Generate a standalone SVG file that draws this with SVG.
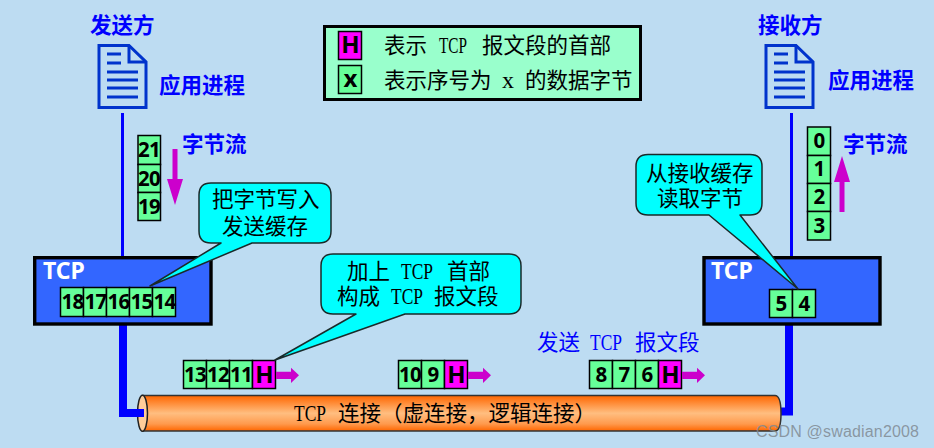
<svg xmlns="http://www.w3.org/2000/svg" width="934" height="448" viewBox="0 0 934 448">
<style>
.cell{fill:#66FF99;stroke:#000;stroke-width:1.5}
.hcell{fill:#FF00FF;stroke:#000;stroke-width:1.5}
.num{font-family:"Noto Sans","Open Sans",sans-serif;font-weight:700;font-size:20.5px;letter-spacing:-.7px;fill:#000;text-anchor:middle}
.hd{font-family:"Liberation Sans","Noto Sans CJK SC",sans-serif;font-weight:700;font-size:21.5px;fill:#0000FF}
.tcp{font-family:"Noto Sans",sans-serif;font-weight:700;font-size:23px;fill:#fff}
.box{fill:#3366FF;stroke:#000;stroke-width:3.4}
.call{fill:#00FFFF;stroke:#1a2a2a;stroke-width:1.5;stroke-linejoin:round}
.t{font-family:"Liberation Serif","Noto Sans CJK SC",serif;font-size:21.5px;fill:#000}
.lat{font-size:24px}
.blue{fill:#0000FF}
.mag{fill:#CC00CC}
.doc{fill:none;stroke:#0033CC;stroke-width:3}
.thin{fill:none;stroke:#0000FF;stroke-width:3}
.thick{fill:none;stroke:#0000FF;stroke-width:8;stroke-linejoin:miter}
</style>
<defs>
<linearGradient id="pipe" x1="0" y1="0" x2="0" y2="1">
<stop offset="0" stop-color="#FF6600"/><stop offset="0.5" stop-color="#FFBE80"/><stop offset="0.8" stop-color="#FF9A4D"/><stop offset="1" stop-color="#FF6600"/>
</linearGradient>
<g id="docicon">
<path class="doc" d="M0,0H30L47,16.500V62H0Z"/>
<path class="doc" d="M30,0V16.500H47"/>
<path class="doc" d="M8,8.500H22M8,17.500H22M8,26.500H39M8,34.500H39M8,42.500H39M8,51.500H39"/>
</g>
<path id="arrowr" class="mag" d="M0,11.700H15V7.700L23,15.300L15,23V19H0Z"/>
</defs>
<rect width="934" height="448" fill="#BDDCF2"/>

<g id="connectors">
<path class="thin" d="M122.500,113V256"/>
<path class="thin" d="M791.500,113V256"/>
<path class="thick" d="M123,325V413H144"/>
<path class="thick" d="M789,325V411.500H781"/>
</g>

<g id="sender">
<text class="hd" x="90" y="32.500">发送方</text>
<use href="#docicon" x="99" y="45.500"/>
<text class="hd" x="159" y="92.500">应用进程</text>
</g>
<g id="receiver">
<text class="hd" x="758" y="32.500">接收方</text>
<use href="#docicon" x="766" y="45.500"/>
<text class="hd" x="828" y="87.500">应用进程</text>
</g>

<g id="legend">
<rect x="324.500" y="26.500" width="316" height="73" fill="#99FFCC" stroke="#000" stroke-width="3"/>
<rect class="hcell" x="338.500" y="31.500" width="23" height="28"/>
<text class="num" x="350" y="53" style="font-size:24px">H</text>
<rect class="cell" x="338.500" y="65.500" width="23" height="28"/>
<text class="num" x="350" y="87" style="font-size:24px">x</text>
<text class="t" y="52.500"><tspan x="384">表示</tspan> <tspan class="lat" x="439" textLength="28" lengthAdjust="spacingAndGlyphs">TCP</tspan> <tspan x="482">报文段的首部</tspan></text>
<text class="t" y="87.500"><tspan x="384">表示序号为</tspan> <tspan class="lat" x="502">x</tspan> <tspan x="525">的数据字节</tspan></text>
</g>

<g id="stream-left">
<rect class="cell" x="138" y="135.500" width="22.500" height="29"/><text class="num" x="149" y="157">21</text>
<rect class="cell" x="138" y="164.500" width="22.500" height="28"/><text class="num" x="149" y="186">20</text>
<rect class="cell" x="138" y="192.500" width="22.500" height="28"/><text class="num" x="149" y="214">19</text>
<path class="mag" d="M172.500,149H177.500V179H183L175,205L167,179H172.500Z"/>
<text class="hd" x="182" y="152">字节流</text>
</g>

<g id="stream-right">
<rect class="cell" x="807.500" y="127" width="23" height="28.500"/><text class="num" x="819" y="148">0</text>
<rect class="cell" x="807.500" y="155.500" width="23" height="28"/><text class="num" x="819" y="176">1</text>
<rect class="cell" x="807.500" y="183.500" width="23" height="28"/><text class="num" x="819" y="204">2</text>
<rect class="cell" x="807.500" y="211.500" width="23" height="28.500"/><text class="num" x="819" y="233">3</text>
<path class="mag" d="M839.500,212V182H834L842,156L850,182H844.500V212Z"/>
<text class="hd" x="843" y="152">字节流</text>
</g>

<g id="tcp-left">
<rect class="box" x="34.700" y="257.700" width="176.300" height="66.300"/>
<text class="tcp" x="43" y="278.500">TCP</text>
<rect class="cell" x="60.500" y="287.500" width="23" height="29"/><text class="num" x="72.500" y="309">18</text>
<rect class="cell" x="83.500" y="287.500" width="23" height="29"/><text class="num" x="95.500" y="309">17</text>
<rect class="cell" x="106.500" y="287.500" width="23" height="29"/><text class="num" x="118.500" y="309">16</text>
<rect class="cell" x="129.500" y="287.500" width="23" height="29"/><text class="num" x="141.500" y="309">15</text>
<rect class="cell" x="152.500" y="287.500" width="23" height="29"/><text class="num" x="164.500" y="309">14</text>
</g>

<g id="tcp-right">
<rect class="box" x="704" y="257.700" width="176" height="66.300"/>
<text class="tcp" x="711" y="278.500">TCP</text>
<rect class="cell" x="769.500" y="289.500" width="23" height="28"/><text class="num" x="781" y="311">5</text>
<rect class="cell" x="792.500" y="289.500" width="23" height="28"/><text class="num" x="804" y="311">4</text>
</g>

<g id="pipe-conn">
<path d="M143,395.500H775Q781,395.500 781,413.500Q781,431 775,431H143Z" fill="url(#pipe)" stroke="#333" stroke-width="1.500"/>
<ellipse cx="142.500" cy="413.300" rx="5" ry="18" fill="#FFCC99" stroke="#222" stroke-width="1.500"/>
<path d="M135,409H144V417H135Z" fill="#0000FF"/>
<text class="t" y="421"><tspan class="lat" x="294" textLength="32" lengthAdjust="spacingAndGlyphs">TCP</tspan> <tspan x="338">连接（虚连接，逻辑连接）</tspan></text>
</g>

<g id="segment-1">
<rect class="cell" x="183.500" y="360.500" width="23" height="28"/><text class="num" x="195" y="382">13</text>
<rect class="cell" x="206.500" y="360.500" width="23" height="28"/><text class="num" x="218" y="382">12</text>
<rect class="cell" x="229.500" y="360.500" width="23" height="28"/><text class="num" x="241" y="382">11</text>
<rect class="hcell" x="252.500" y="360.500" width="23" height="28"/><text class="num" x="264" y="383" style="font-size:24px">H</text>
<use href="#arrowr" x="276" y="360"/>
</g>
<g id="segment-2">
<rect class="cell" x="398.500" y="360.500" width="23" height="28"/><text class="num" x="410" y="382">10</text>
<rect class="cell" x="421.500" y="360.500" width="23" height="28"/><text class="num" x="433" y="382">9</text>
<rect class="hcell" x="444.500" y="360.500" width="23" height="28"/><text class="num" x="456" y="383" style="font-size:24px">H</text>
<use href="#arrowr" x="468" y="360"/>
</g>
<g id="segment-3">
<text class="t blue" y="350"><tspan class="lat" x="537" style="font-size:21.5px">发送</tspan> <tspan class="lat" x="590" textLength="32" lengthAdjust="spacingAndGlyphs">TCP</tspan> <tspan x="635">报文段</tspan></text>
<rect class="cell" x="589.500" y="360.500" width="23" height="28"/><text class="num" x="601" y="382">8</text>
<rect class="cell" x="612.500" y="360.500" width="23" height="28"/><text class="num" x="624" y="382">7</text>
<rect class="cell" x="635.500" y="360.500" width="23" height="28"/><text class="num" x="647" y="382">6</text>
<rect class="hcell" x="658.500" y="360.500" width="23" height="28"/><text class="num" x="670" y="383" style="font-size:24px">H</text>
<use href="#arrowr" x="682" y="360"/>
</g>

<g id="callout-write">
<path class="call" d="M211,183H319Q331,183 331,195V231Q331,243 319,243H252L150,286L221,243H211Q199,243 199,231V195Q199,183 211,183Z"/>
<text class="t" x="212" y="207">把字节写入</text>
<text class="t" x="222" y="234">发送缓存</text>
</g>
<g id="callout-header">
<path class="call" d="M333,254H509Q521,254 521,266V302Q521,314 509,314H405L275,360L356,314H333Q321,314 321,302V266Q321,254 333,254Z"/>
<text class="t" y="279"><tspan x="347">加上</tspan> <tspan class="lat" x="401" textLength="32" lengthAdjust="spacingAndGlyphs">TCP</tspan> <tspan x="447">首部</tspan></text>
<text class="t" y="304"><tspan x="337">构成</tspan> <tspan class="lat" x="391" textLength="32" lengthAdjust="spacingAndGlyphs">TCP</tspan> <tspan x="434">报文段</tspan></text>
</g>
<g id="callout-read">
<path class="call" d="M648,154.500H750Q762,154.500 762,166.500V203Q762,215 750,215H740L798,289L709,215H648Q636,215 636,203V166.500Q636,154.500 648,154.500Z"/>
<text class="t" x="646" y="181">从接收缓存</text>
<text class="t" x="657" y="206">读取字节</text>
</g>
<text x="756" y="437" font-family="Liberation Sans, Arial, sans-serif" font-size="16" fill="#808a92" fill-opacity="0.85" textLength="163">CSDN @swadian2008</text>
</svg>
